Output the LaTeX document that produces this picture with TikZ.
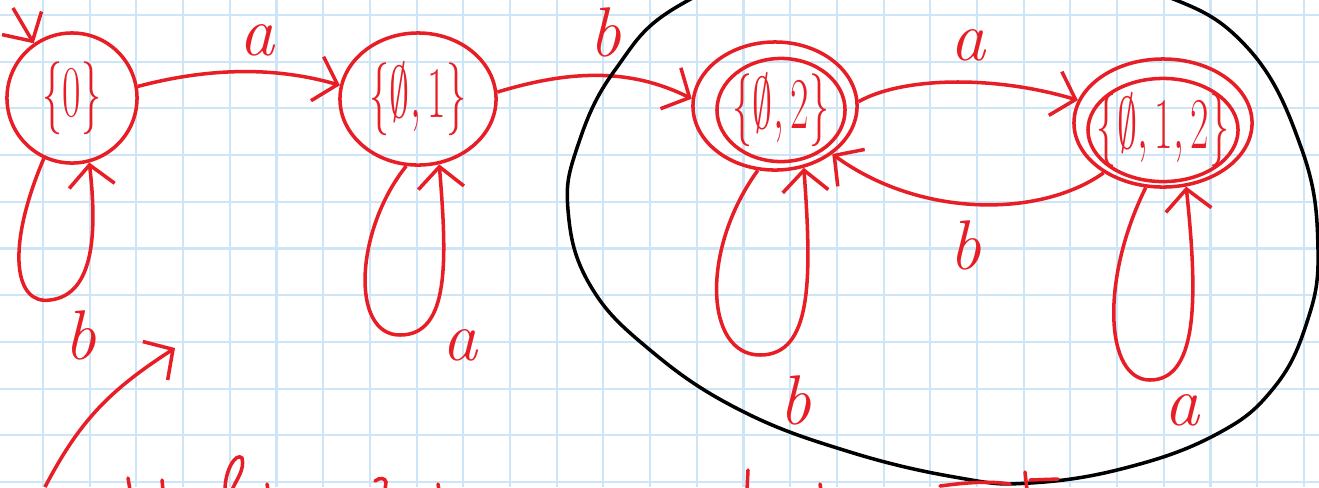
\documentclass[tikz,border=0pt]{standalone}
\usepackage{amsmath,amssymb,graphicx}
\usetikzlibrary{arrows.meta,shapes.geometric,positioning}
\definecolor{pen}{RGB}{232,30,38}
\definecolor{gridline}{RGB}{204,229,247}
\newcommand{\etiq}[1]{\makebox[0pt]{\scalebox{0.55}[1]{$#1$}}}
\tikzset{
  etat/.style={draw=pen, ellipse, line width=1pt, inner sep=0pt, text=pen,
    font=\fontsize{20}{24}\selectfont},
  fleche/.style={draw=pen, line width=1pt, -{Straight Barb[length=6pt,width=13pt]}},
  lettre/.style={text=pen, font=\fontsize{20}{24}\selectfont\itshape},
  trait/.style={draw=pen, line width=1pt, line cap=round},
}

\begin{document}
\begin{tikzpicture}[x=0.01cm,y=-0.01cm]
	\useasboundingbox (0,0) rectangle (1319,487);
	\clip (0,0) rectangle (1319,487);
	\fill[white] (0,0) rectangle (1319,487);
	% grid paper
	\foreach \i in {0,...,27}
		\draw[gridline, line width=0.6pt] ({43+46.7*\i},0) -- ({43+46.7*\i},487);
	\foreach \j in {0,...,10}
		\draw[gridline, line width=0.6pt] (0,{15+46.7*\j}) -- (1319,{15+46.7*\j});
	
	% states
	\node[etat, minimum width=1.3cm, minimum height=1.3cm] (q0) at (72,98) {\etiq{\{0\}}};
	\node[etat, minimum width=1.56cm, minimum height=1.32cm] (q1) at (418,99) {\etiq{\{\emptyset,1\}}};
	\node[etat, minimum width=1.64cm, minimum height=1.28cm] (q2) at (775,106) {};
	\node[etat, minimum width=1.28cm, minimum height=1.0cm] (q2in) at (781,110) {\etiq{\{\emptyset,2\}}};
	\node[etat, minimum width=1.78cm, minimum height=1.28cm] (q3) at (1163,123) {};
	\node[etat, minimum width=1.5cm, minimum height=1.0cm] (q3in) at (1163,130) {\etiq{\{\emptyset,1,2\}}};
	
	% initial arrow
	\coordinate (debut) at (13,8);
	\draw[fleche] (debut) -- (q0.125);
	
	% transitions
	\draw[fleche] (q0.10) .. controls (215,66) and (280,68) .. (q1.170);
	\node[lettre] (la1) at (257,40) {a};
	\draw[fleche] (q1.5) .. controls (570,70) and (630,68) .. (q2.175);
	\node[lettre] (lb1) at (605,32) {b};
	\draw[fleche] (q2.3) .. controls (900,78) and (990,74) .. (q3.165);
	\node[lettre] (la2) at (968,45) {a};
	\draw[fleche] (q3.220) .. controls (1040,218) and (920,218) .. (q2.-40);
	\node[lettre] (lb2) at (965,245) {b};
	
	% loops
	\draw[fleche] (q0.-115) .. controls (5,250) and (15,305) .. (50,300) .. controls (95,295) and (97,230) .. (q0.-75);
	\node[lettre] (lb0) at (80,335) {b};
	\draw[fleche] (q1.-100) .. controls (355,230) and (350,335) .. (400,335) .. controls (450,335) and (447,260) .. (q1.-72);
	\node[lettre] (la0) at (460,345) {a};
	\draw[fleche] (q2.-105) .. controls (700,250) and (705,355) .. (760,355) .. controls (812,355) and (812,280) .. (q2.-65);
	\node[lettre] (lb3) at (795,400) {b};
	\draw[fleche] (q3.-105) .. controls (1100,280) and (1105,380) .. (1150,380) .. controls (1200,380) and (1197,290) .. (q3.-70);
	\node[lettre] (la3) at (1182,410) {a};
	
	% black loop round the final states
	\draw[black, line width=1pt] plot[smooth cycle, tension=0.7] coordinates {
		(1000,-50) (810,-42) (680,5) (615,70) (578,145) (568,210) (590,285) (650,350)
		(740,410) (850,452) (960,478) (1030,483) (1125,468) (1215,435) (1272,390) (1306,325)
		(1318,250) (1302,150) (1245,45) (1150,-10)};
	
	% arrow and cut off writing at the bottom
	\coordinate (pied) at (45,487);
	\coordinate (pointe) at (175,348);
	\draw[fleche] (pied) .. controls (80,420) and (110,390) .. (pointe);
	\draw[trait] (128,478) -- (130,490);
	\draw[trait] (162,480) -- (163,490);
	\draw[trait] (225,490) .. controls (225,470) and (236,452) .. (242,458) .. controls (245,470) and (236,480) .. (232,490);
	\draw[trait] (267,484) -- (268,490);
	\draw[trait] (375,481) .. controls (380,477) and (385,478) .. (386,482) -- (385,490);
	\draw[trait] (438,484) -- (439,490);
	\draw[trait] (748,470) -- (747,490);
	\draw[trait] (820,484) -- (821,490);
	\draw[trait] (940,486) .. controls (970,482) and (990,481) .. (1010,484);
	\draw[trait] (1025,472) -- (1027,490);
	\draw[trait] (1030,480) -- (1058,479);
\end{tikzpicture}
\end{document}
